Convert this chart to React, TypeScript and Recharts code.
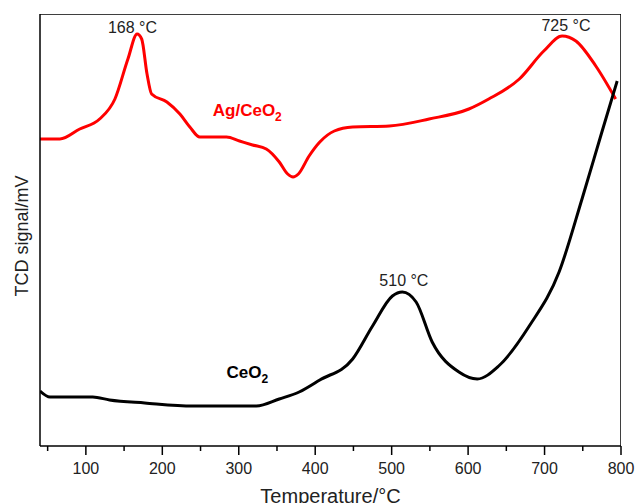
import React from "react";
import { LineChart, Line, XAxis, YAxis, Scatter } from "recharts";

const agCeO2 = [
  { t: 40, v: 307 }, { t: 66, v: 307 }, { t: 92, v: 317 }, { t: 118, v: 327 },
  { t: 138, v: 347 }, { t: 155, v: 387 }, { t: 167, v: 412 }, { t: 173, v: 407 },
  { t: 180, v: 372 }, { t: 186, v: 352 }, { t: 206, v: 344 }, { t: 223, v: 332 },
  { t: 236, v: 319 }, { t: 249, v: 309 }, { t: 284, v: 309 }, { t: 301, v: 305 },
  { t: 318, v: 301 }, { t: 336, v: 297 }, { t: 353, v: 284 }, { t: 364, v: 272 },
  { t: 371, v: 269 }, { t: 378, v: 272 }, { t: 392, v: 290 }, { t: 406, v: 304 }, { t: 425, v: 315 },
  { t: 449, v: 319 }, { t: 497, v: 320 }, { t: 549, v: 327 }, { t: 601, v: 337 },
  { t: 627, v: 347 }, { t: 667, v: 367 }, { t: 699, v: 395 }, { t: 723, v: 410 },
  { t: 741, v: 405 }, { t: 767, v: 380 }, { t: 793, v: 347 },
];

const ceO2 = [
  { t: 40, v: 55 }, { t: 53, v: 49 }, { t: 109, v: 49 }, { t: 131, v: 46 },
  { t: 177, v: 43 }, { t: 240, v: 40 }, { t: 323, v: 40 }, { t: 353, v: 47 },
  { t: 379, v: 54 }, { t: 406, v: 66 }, { t: 449, v: 87 }, { t: 475, v: 120 },
  { t: 501, v: 150 }, { t: 514, v: 154 }, { t: 532, v: 144 }, { t: 553, v: 104 },
  { t: 588, v: 74 }, { t: 612, v: 67 }, { t: 640, v: 80 }, { t: 680, v: 120 },
  { t: 719, v: 174 }, { t: 749, v: 247 }, { t: 775, v: 314 }, { t: 795, v: 365 },
];

const xTicks = [50, 100, 150, 200, 250, 300, 350, 400, 450, 500, 550, 600, 650, 700, 750, 800];

const X_MIN = 40;
const X_MAX = 800;
const Y_MIN = 0;
const Y_MAX = 432;

// top and right edges of the plot frame, in data units
const frame = [
  { t: X_MIN, v: Y_MAX },
  { t: X_MAX, v: Y_MAX },
  { t: X_MAX, v: Y_MIN },
];

const annotations = [
  { t: 161, v: 419, text: "168 °C", sub: "", color: "#222", bold: false, anchor: "middle" },
  { t: 728, v: 421, text: "725 °C", sub: "", color: "#222", bold: false, anchor: "middle" },
  { t: 516, v: 166, text: "510 °C", sub: "", color: "#222", bold: false, anchor: "middle" },
  { t: 266, v: 336, text: "Ag/CeO", sub: "2", color: "#ff0000", bold: true, anchor: "start" },
  { t: 284, v: 74, text: "CeO", sub: "2", color: "#000", bold: true, anchor: "start" },
];

const FONT = "'Liberation Sans', Arial, sans-serif";

const XTick = (props: any) => {
  const { x, y, payload } = props;
  const major = payload.value % 100 === 0;
  return (
    <g>
      <line x1={x} x2={x} y1={y} y2={y + (major ? 9 : 5)} stroke="#000" strokeWidth={1.5} />
      {major && (
        <text x={x} y={y + 28} textAnchor="middle" fontSize={16} fill="#222" fontFamily={FONT}>
          {payload.value}
        </text>
      )}
    </g>
  );
};

const AnnShape = (props: any) => {
  const { cx, cy, payload } = props;
  return (
    <text
      x={cx}
      y={cy}
      textAnchor={payload.anchor}
      dominantBaseline="central"
      fontSize={payload.bold ? 17 : 16}
      fontWeight={payload.bold ? "bold" : "normal"}
      fill={payload.color}
      fontFamily={FONT}
    >
      {payload.text}
      {payload.sub && (
        <tspan fontSize={12} dy={7}>
          {payload.sub}
        </tspan>
      )}
    </text>
  );
};

export default function App() {
  return (
    <div style={{ position: "absolute", left: 0, top: 0, background: "#fff" }}>
      <LineChart
        width={635}
        height={503}
        margin={{ top: 14, right: 14, left: 0, bottom: 0 }}
      >
        <XAxis
          type="number"
          dataKey="t"
          domain={[X_MIN, X_MAX]}
          ticks={xTicks}
          interval={0}
          allowDataOverflow
          height={57}
          tickLine={false}
          tickSize={0}
          tickMargin={0}
          tick={<XTick />}
          axisLine={{ stroke: "#000", strokeWidth: 1.5 }}
          label={{
            value: "Temperature/°C",
            position: "insideBottom",
            offset: 0,
            fontSize: 20,
            fill: "#222",
            fontFamily: FONT,
          }}
        />
        <YAxis
          type="number"
          domain={[Y_MIN, Y_MAX]}
          allowDataOverflow
          width={40}
          tick={false}
          tickLine={false}
          axisLine={{ stroke: "#000", strokeWidth: 1.5 }}
          label={{
            value: "TCD signal/mV",
            angle: -90,
            position: "insideLeft",
            offset: 0,
            dx: 22,
            dy: 6,
            fontSize: 18,
            fill: "#222",
            fontFamily: FONT,
            textAnchor: "middle",
          }}
        />
        <Line
          data={frame}
          dataKey="v"
          type="linear"
          stroke="#000"
          strokeWidth={1.5}
          dot={false}
          isAnimationActive={false}
        />
        <Line
          data={agCeO2}
          dataKey="v"
          type="monotone"
          stroke="#ff0000"
          strokeWidth={3}
          dot={false}
          isAnimationActive={false}
        />
        <Line
          data={ceO2}
          dataKey="v"
          type="monotone"
          stroke="#000"
          strokeWidth={3}
          dot={false}
          isAnimationActive={false}
        />
        <Scatter
          data={annotations}
          dataKey="v"
          shape={<AnnShape />}
          isAnimationActive={false}
        />
      </LineChart>
    </div>
  );
}
